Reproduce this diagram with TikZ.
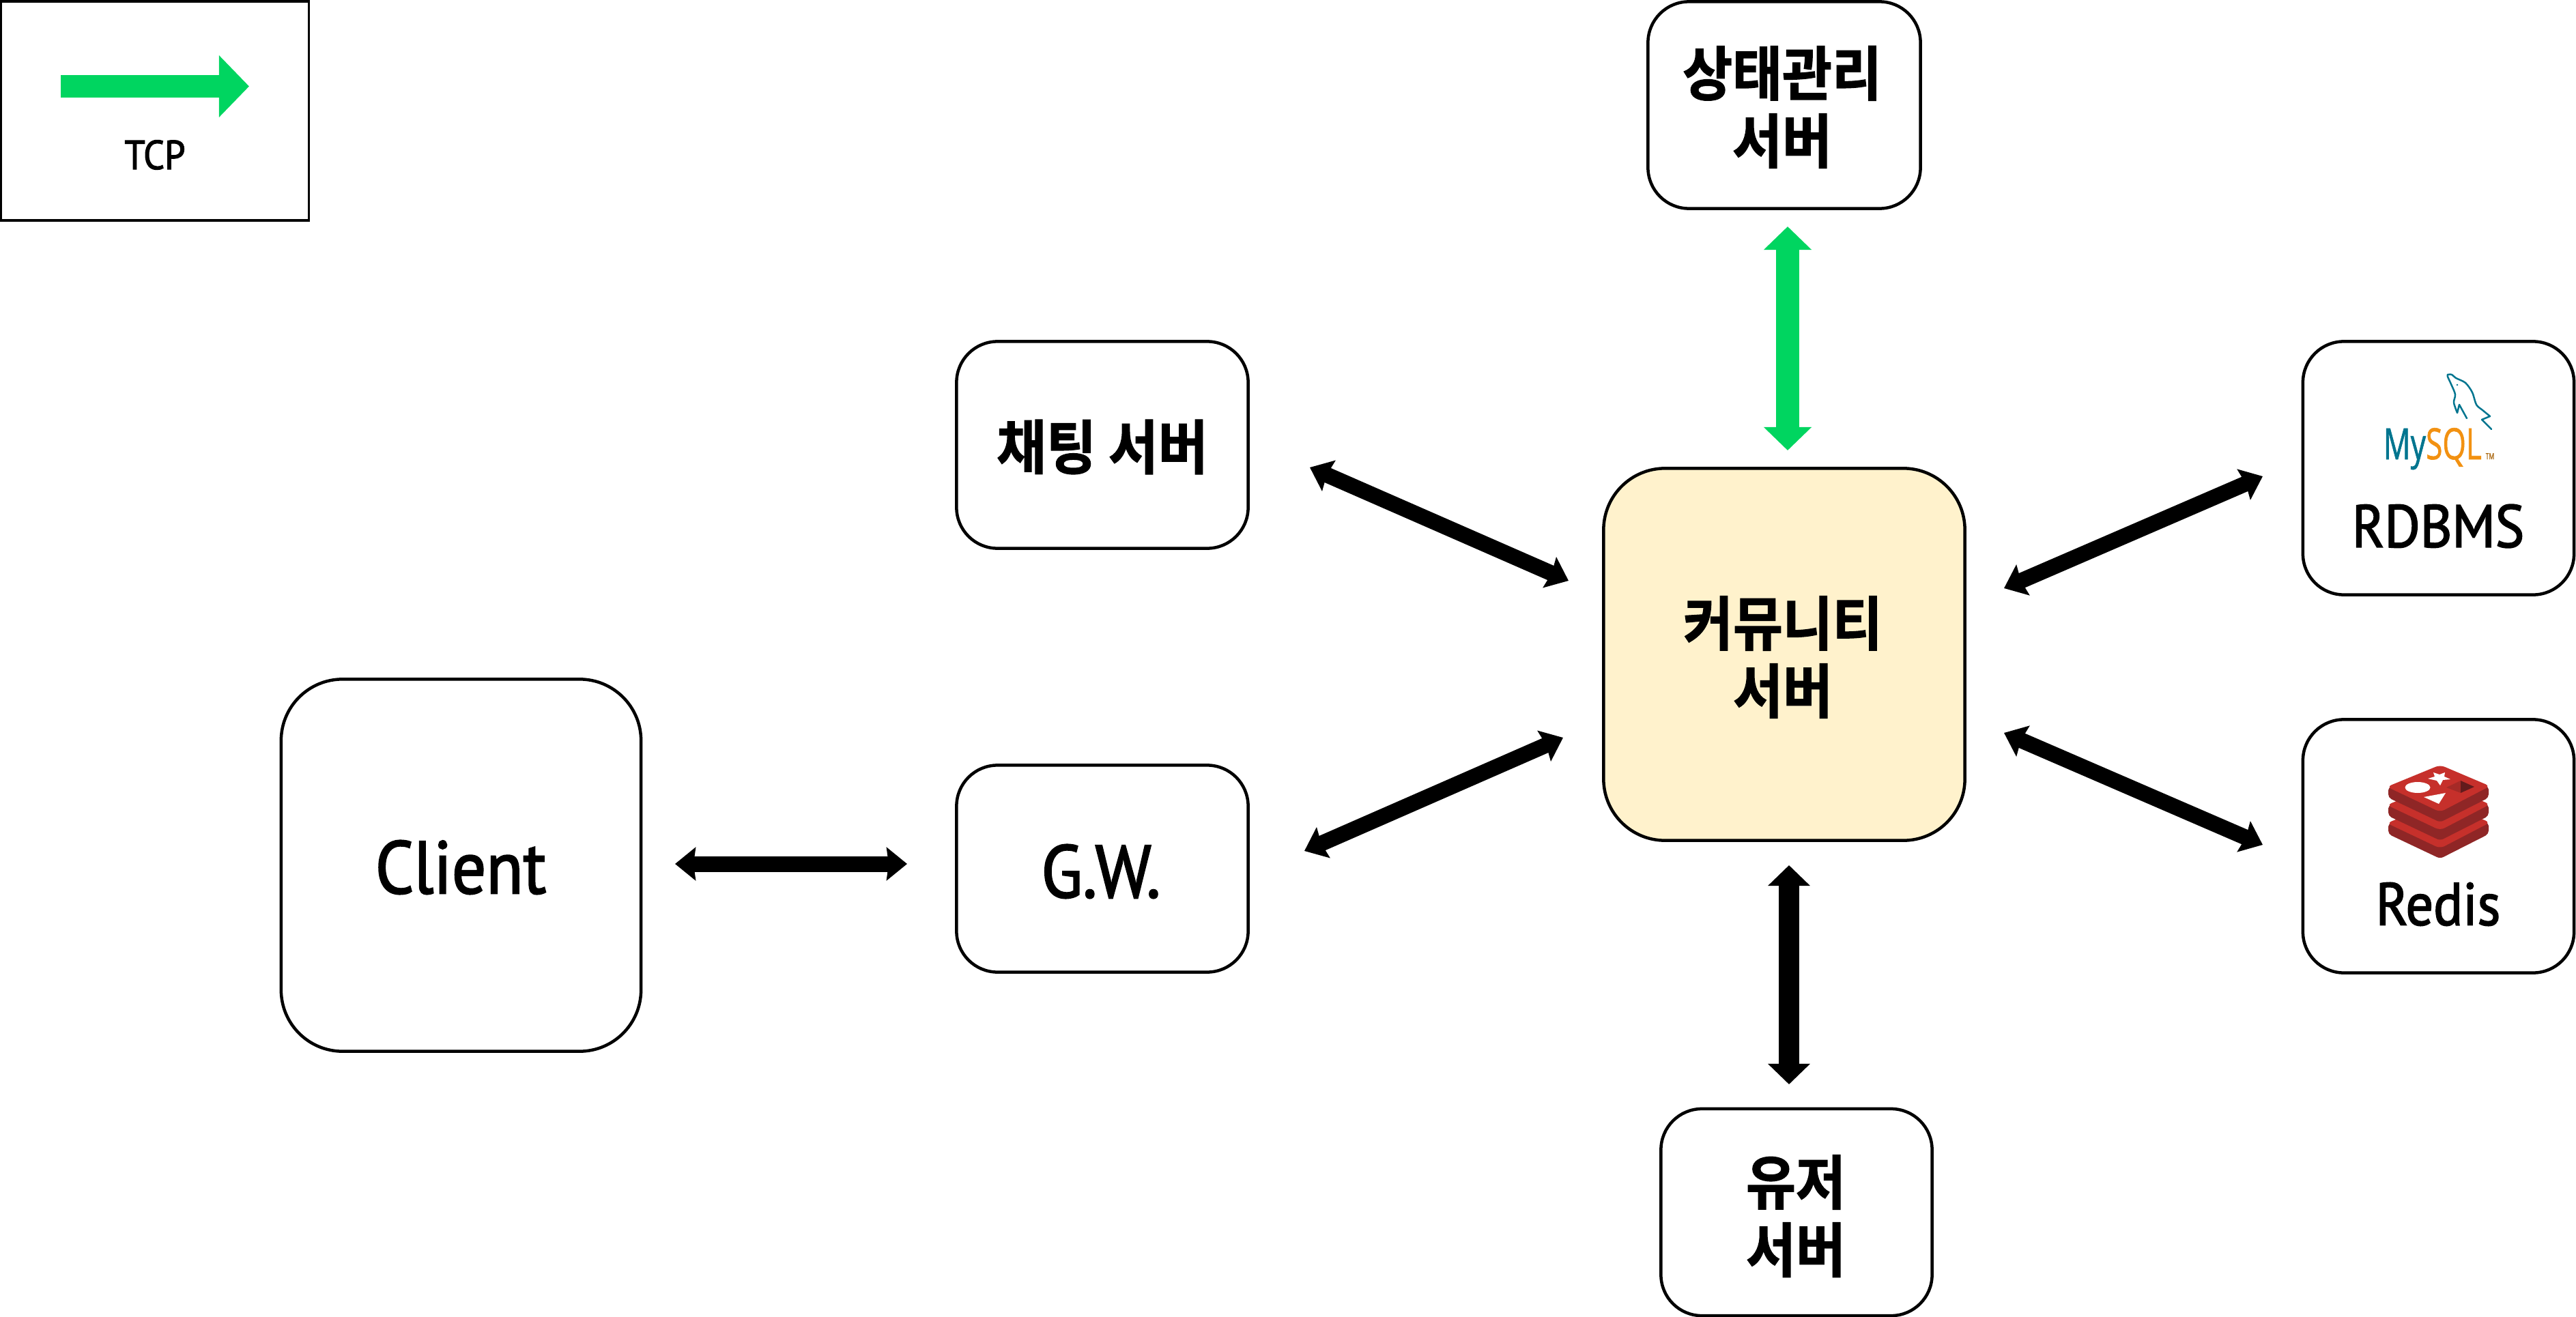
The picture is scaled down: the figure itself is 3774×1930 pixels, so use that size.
\documentclass[tikz,border=0pt]{standalone}
\usepackage{fontspec}
\usetikzlibrary{arrows.meta}
\setmainfont{PT Sans}[FakeBold=2,FakeStretch=0.91]
\newfontfamily\krfont{Noto Sans CJK KR}[BoldFont={* Bold},BoldFeatures={FakeStretch=0.92,FakeBold=1.5}]
\newfontfamily\logofont{Open Sans}[FakeStretch=0.70,FakeBold=1]
\definecolor{tcpgreen}{HTML}{00D560}
\definecolor{commfill}{HTML}{FFF2CC}
\definecolor{mysqlblue}{HTML}{00758F}
\definecolor{mysqlorange}{HTML}{F29111}
\definecolor{redisred}{HTML}{C6302B}
\definecolor{redisdark}{HTML}{8F2626}
\definecolor{redismid}{HTML}{A52A27}
\definecolor{redisdeep}{HTML}{621B1C}
\tikzset{
  basebox/.style={draw=black,line width=0.045cm,inner sep=0pt,outer sep=0pt,align=center},
  smallbox/.style={basebox,rounded corners=0.6cm},
  bigbox/.style={basebox,rounded corners=0.9cm},
  krtext/.style={font=\krfont\bfseries\fontsize{24.5}{28.2}\selectfont,align=center},
  lattext/.style={font=\fontsize{31}{36}\selectfont},
  labeltext/.style={inner sep=0pt,anchor=center},
  slimlink/.style={line width=0.23cm,black,
    arrows={Stealth[length=0.3cm,width=0.48cm,inset=0.03cm]-Stealth[length=0.3cm,width=0.48cm,inset=0.03cm]}},
  greenlink/.style={line width=0.34cm,tcpgreen,
    arrows={Triangle[length=0.34cm,width=0.68cm]-Triangle[length=0.34cm,width=0.68cm]}},
  blacklink/.style={line width=0.30cm,black,
    arrows={Triangle[length=0.30cm,width=0.60cm]-Triangle[length=0.30cm,width=0.60cm]}},
  legendlink/.style={line width=0.335cm,tcpgreen,
    arrows={-Triangle[length=0.44cm,width=0.88cm]}}
}
\newcommand{\redislayer}[1]{%
  \fill[redisdark,rounded corners=0.05cm,shift={(0,#1)}]
    (3499,1153) -- (3499,1169) -- (3575,1205) -- (3646,1169) -- (3646,1152) -- (3575,1160) -- cycle;
  \fill[redisred,rounded corners=0.07cm,shift={(0,#1)}]
    (3497,1153) -- (3575,1121) -- (3648,1152) -- (3575,1190) -- cycle;
}
\begin{document}
\begin{tikzpicture}[x=0.01cm,y=-0.01cm]
\path[use as bounding box,fill=white] (0,0) rectangle (3774,1930);

% legend
\node[draw=black,line width=0.033cm,inner sep=0pt,outer sep=0pt,minimum width=4.51cm,minimum height=3.21cm] (legend) at (227,162.5) {};
\coordinate (legA) at (89,126.5);
\coordinate (legB) at (365,126.5);
\draw[legendlink] (legA) -- (legB);
\node[labeltext,font=\fontsize{17}{20}\selectfont] (tcp) at (227,227) {TCP};

% boxes
\node[smallbox,minimum width=3.99cm,minimum height=3.03cm] (state) at (2614,154) {};
\node[krtext,labeltext] (stateT) at (2611,157) {상태관리\\서버};
\node[smallbox,minimum width=4.27cm,minimum height=3.03cm] (chat) at (1615,652) {};
\node[krtext,labeltext] (chatT) at (1615,655) {채팅 서버};
\node[smallbox,minimum width=4.27cm,minimum height=3.03cm] (gw) at (1615,1273) {};
\node[lattext,labeltext] (gwT) at (1613,1277) {G.W.};
\node[bigbox,minimum width=5.27cm,minimum height=5.45cm] (client) at (675.5,1268) {};
\node[lattext,labeltext] (clientT) at (675,1271) {Client};
\node[bigbox,fill=commfill,minimum width=5.29cm,minimum height=5.45cm] (comm) at (2614,959) {};
\node[krtext,labeltext] (commT) at (2612,963) {커뮤니티\\서버};
\node[smallbox,minimum width=3.97cm,minimum height=3.03cm] (user) at (2632,1776.5) {};
\node[krtext,labeltext] (userT) at (2631,1782) {유저\\서버};
\node[smallbox,minimum width=3.97cm,minimum height=3.71cm] (rdb) at (3572.5,686) {};
\node[labeltext,font=\fontsize{25}{28}\selectfont] (rdbT) at (3572,771) {RDBMS};
\node[smallbox,minimum width=3.97cm,minimum height=3.71cm] (redis) at (3572.5,1240) {};
\node[labeltext,font=\fontsize{25}{28}\selectfont] (redisT) at (3572,1325) {Redis};

% connectors
\coordinate (a1) at (1919,685);   \coordinate (a2) at (2298,851);
\coordinate (b1) at (1911,1247);  \coordinate (b2) at (2290,1081);
\coordinate (c1) at (2936,862);   \coordinate (c2) at (3315,698);
\coordinate (d1) at (2936,1074);  \coordinate (d2) at (3315,1238);
\coordinate (e1) at (989,1266);   \coordinate (e2) at (1329,1266);
\coordinate (f1) at (2619,332);   \coordinate (f2) at (2619,660);
\coordinate (g1) at (2621,1268);  \coordinate (g2) at (2621,1589);
\draw[slimlink] (a1) -- (a2);
\draw[slimlink] (b1) -- (b2);
\draw[slimlink] (c1) -- (c2);
\draw[slimlink] (d1) -- (d2);
\draw[slimlink] (e1) -- (e2);
\draw[greenlink] (f1) -- (f2);
\draw[blacklink] (g1) -- (g2);

% MySQL logo
\node[anchor=base west,inner sep=0pt,font=\logofont\fontsize{18}{20}\selectfont] (mysql) at (3491,673)
  {\textcolor{mysqlblue}{My}\textcolor{mysqlorange}{SQL}};
\node[anchor=base west,inner sep=0pt,text=mysqlorange!70!black,font=\logofont\fontsize{3.5}{4}\selectfont] (tm) at (3641,673) {TM};
\draw[mysqlblue,line width=0.025cm,line join=round,line cap=round]
  plot[smooth,tension=0.5] coordinates {(3586,549) (3592,549) (3598,554) (3612,561) (3622,575) (3628,593) (3637,601) (3648,610)}
  -- (3636,615) -- (3650,629);
\draw[mysqlblue,line width=0.025cm,line join=round,line cap=round]
  plot[smooth,tension=0.5] coordinates {(3586,549) (3586,552) (3591,563) (3597,578) (3595,590) (3600,605)}
  -- (3603,593) -- (3614,613);
\fill[mysqlblue] (3600,564) circle (1.3);

% Redis logo
\redislayer{53.3}
\redislayer{26.7}
\redislayer{0}
\fill[white] (3565,1132) -- (3574,1135) -- (3582,1132) -- (3581,1138) -- (3590,1142) -- (3579,1143) -- (3575,1151) -- (3570,1144) -- (3557,1141) -- (3567,1138) -- cycle;
\fill[white] (3542,1154) ellipse [x radius=18.5,y radius=8];
\fill[white] (3551,1168) -- (3583,1162) -- (3573,1178) -- cycle;
\fill[redismid] (3584,1154) -- (3605,1144) -- (3605,1162) -- cycle;
\fill[redisdeep] (3605,1144) -- (3625,1153) -- (3605,1162) -- cycle;
\end{tikzpicture}
\end{document}
